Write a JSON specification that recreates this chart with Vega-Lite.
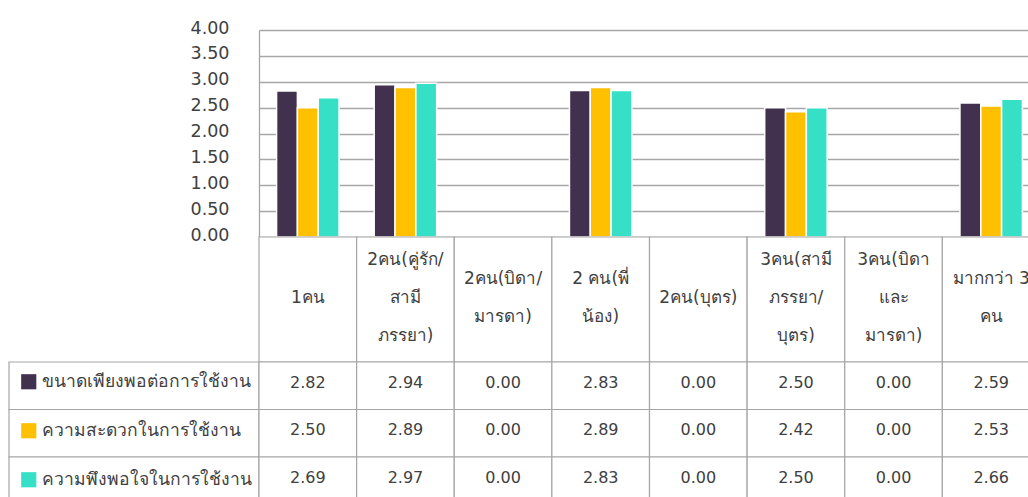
{
  "$schema": "https://vega.github.io/schema/vega-lite/v6.json",
  "padding": {"left": 8, "top": 19, "right": 0, "bottom": 0},
  "columns": 2,
  "spacing": 0,
  "align": "each",
  "bounds": "flush",
  "config": {
    "view": {"stroke": null},
    "font": "DejaVu Sans",
    "text": {"color": "#404040"}
  },
  "resolve": {
    "scale": {"x": "independent", "y": "independent", "color": "independent"},
    "legend": {"color": "independent"}
  },
  "datasets": {
    "scores": [
      {"cat": "1คน", "series": "ขนาดเพียงพอต่อการใช้งาน", "value": 2.82},
      {"cat": "2คน(คู่รัก/\nสามี\nภรรยา)", "series": "ขนาดเพียงพอต่อการใช้งาน", "value": 2.94},
      {"cat": "2คน(บิดา/\nมารดา)", "series": "ขนาดเพียงพอต่อการใช้งาน", "value": 0},
      {"cat": "2 คน(พี่\nน้อง)", "series": "ขนาดเพียงพอต่อการใช้งาน", "value": 2.83},
      {"cat": "2คน(บุตร)", "series": "ขนาดเพียงพอต่อการใช้งาน", "value": 0},
      {"cat": "3คน(สามี\nภรรยา/\nบุตร)", "series": "ขนาดเพียงพอต่อการใช้งาน", "value": 2.5},
      {"cat": "3คน(บิดา\nและ\nมารดา)", "series": "ขนาดเพียงพอต่อการใช้งาน", "value": 0},
      {"cat": "มากกว่า 3\nคน", "series": "ขนาดเพียงพอต่อการใช้งาน", "value": 2.59},
      {"cat": "1คน", "series": "ความสะดวกในการใช้งาน", "value": 2.5},
      {"cat": "2คน(คู่รัก/\nสามี\nภรรยา)", "series": "ความสะดวกในการใช้งาน", "value": 2.89},
      {"cat": "2คน(บิดา/\nมารดา)", "series": "ความสะดวกในการใช้งาน", "value": 0},
      {"cat": "2 คน(พี่\nน้อง)", "series": "ความสะดวกในการใช้งาน", "value": 2.89},
      {"cat": "2คน(บุตร)", "series": "ความสะดวกในการใช้งาน", "value": 0},
      {"cat": "3คน(สามี\nภรรยา/\nบุตร)", "series": "ความสะดวกในการใช้งาน", "value": 2.42},
      {"cat": "3คน(บิดา\nและ\nมารดา)", "series": "ความสะดวกในการใช้งาน", "value": 0},
      {"cat": "มากกว่า 3\nคน", "series": "ความสะดวกในการใช้งาน", "value": 2.53},
      {"cat": "1คน", "series": "ความพึงพอใจในการใช้งาน", "value": 2.69},
      {"cat": "2คน(คู่รัก/\nสามี\nภรรยา)", "series": "ความพึงพอใจในการใช้งาน", "value": 2.97},
      {"cat": "2คน(บิดา/\nมารดา)", "series": "ความพึงพอใจในการใช้งาน", "value": 0},
      {"cat": "2 คน(พี่\nน้อง)", "series": "ความพึงพอใจในการใช้งาน", "value": 2.83},
      {"cat": "2คน(บุตร)", "series": "ความพึงพอใจในการใช้งาน", "value": 0},
      {"cat": "3คน(สามี\nภรรยา/\nบุตร)", "series": "ความพึงพอใจในการใช้งาน", "value": 2.5},
      {"cat": "3คน(บิดา\nและ\nมารดา)", "series": "ความพึงพอใจในการใช้งาน", "value": 0},
      {"cat": "มากกว่า 3\nคน", "series": "ความพึงพอใจในการใช้งาน", "value": 2.66}
    ],
    "cats": [
      {"cat": "1คน"},
      {"cat": "2คน(คู่รัก/\nสามี\nภรรยา)"},
      {"cat": "2คน(บิดา/\nมารดา)"},
      {"cat": "2 คน(พี่\nน้อง)"},
      {"cat": "2คน(บุตร)"},
      {"cat": "3คน(สามี\nภรรยา/\nบุตร)"},
      {"cat": "3คน(บิดา\nและ\nมารดา)"},
      {"cat": "มากกว่า 3\nคน"}
    ],
    "seriesList": [
      {"series": "ขนาดเพียงพอต่อการใช้งาน"},
      {"series": "ความสะดวกในการใช้งาน"},
      {"series": "ความพึงพอใจในการใช้งาน"}
    ]
  },
  "concat": [
    {
      "width": 250,
      "height": 207,
      "data": {"values": [{}]},
      "mark": {"type": "text"},
      "encoding": {"text": {"value": ""}}
    },
    {
      "width": 781,
      "height": 207,
      "data": {"name": "scores"},
      "transform": [{"filter": "datum.value > 0"}],
      "mark": {"type": "bar", "stroke": "white", "strokeWidth": 1.5},
      "encoding": {
        "x": {
          "field": "cat", "type": "nominal", "sort": null, "axis": null,
          "scale": {"domain": ["1คน", "2คน(คู่รัก/\nสามี\nภรรยา)", "2คน(บิดา/\nมารดา)", "2 คน(พี่\nน้อง)", "2คน(บุตร)", "3คน(สามี\nภรรยา/\nบุตร)", "3คน(บิดา\nและ\nมารดา)", "มากกว่า 3\nคน"], "paddingInner": 0.36, "paddingOuter": 0.18}
        },
        "xOffset": {
          "field": "series", "type": "nominal", "sort": null,
          "scale": {"domain": ["ขนาดเพียงพอต่อการใช้งาน", "ความสะดวกในการใช้งาน", "ความพึงพอใจในการใช้งาน"], "paddingInner": 0, "paddingOuter": 0}
        },
        "y": {
          "field": "value", "type": "quantitative",
          "scale": {"domain": [0, 4]},
          "axis": {
            "title": null, "values": [0, 0.5, 1, 1.5, 2, 2.5, 3, 3.5, 4], "format": ".2f",
            "ticks": false, "labelPadding": 30, "labelFontSize": 17.5, "labelColor": "#404040",
            "labelOffset": -2, "gridColor": "#a6a6a6", "gridWidth": 1.3,
            "domainColor": "#a6a6a6", "domainWidth": 1.3
          }
        },
        "color": {
          "field": "series", "type": "nominal", "legend": null,
          "scale": {"domain": ["ขนาดเพียงพอต่อการใช้งาน", "ความสะดวกในการใช้งาน", "ความพึงพอใจในการใช้งาน"], "range": ["#41314f", "#ffc000", "#35e0c6"]}
        }
      }
    },
    {
      "width": 250,
      "height": 125,
      "data": {"values": [{}]},
      "mark": {"type": "text"},
      "encoding": {"text": {"value": ""}}
    },
    {
      "width": 781,
      "height": 125,
      "data": {"name": "cats"},
      "encoding": {
        "x": {"field": "cat", "type": "nominal", "sort": null, "axis": null, "scale": {"paddingInner": 0, "paddingOuter": 0}}
      },
      "layer": [
        {"mark": {"type": "rect", "fill": "white", "stroke": "#a6a6a6", "strokeWidth": 1.2}},
        {
          "transform": [{"filter": "length(split(datum.cat, '\\n')) == 1"}],
          "mark": {"type": "text", "fontSize": 17, "lineBreak": "\n", "lineHeight": 38, "baseline": "middle", "dy": -2},
          "encoding": {"text": {"field": "cat"}}
        },
        {
          "transform": [{"filter": "length(split(datum.cat, '\\n')) == 2"}],
          "mark": {"type": "text", "fontSize": 17, "lineBreak": "\n", "lineHeight": 38, "baseline": "middle", "dy": -21},
          "encoding": {"text": {"field": "cat"}}
        },
        {
          "transform": [{"filter": "length(split(datum.cat, '\\n')) == 3"}],
          "mark": {"type": "text", "fontSize": 17, "lineBreak": "\n", "lineHeight": 38, "baseline": "middle", "dy": -40},
          "encoding": {"text": {"field": "cat"}}
        }
      ]
    },
    {
      "width": 250,
      "height": 142.5,
      "data": {"name": "seriesList"},
      "encoding": {
        "y": {"field": "series", "type": "nominal", "sort": null, "axis": null, "scale": {"paddingInner": 0, "paddingOuter": 0}}
      },
      "layer": [
        {"mark": {"type": "rect", "fill": "white", "stroke": "#a6a6a6", "strokeWidth": 1.2}},
        {
          "mark": {"type": "text", "text": ""},
          "encoding": {
            "color": {
              "field": "series", "type": "nominal", "sort": null,
              "scale": {"domain": ["ขนาดเพียงพอต่อการใช้งาน", "ความสะดวกในการใช้งาน", "ความพึงพอใจในการใช้งาน"], "range": ["#41314f", "#ffc000", "#35e0c6"]},
              "legend": {
                "orient": "top-left", "offset": 11, "padding": 0, "title": null,
                "symbolType": "square", "symbolSize": 230, "symbolStrokeWidth": 0,
                "labelFontSize": 17.5, "labelColor": "#404040", "labelOffset": 4,
                "rowPadding": 30, "labelLimit": 0
              }
            }
          }
        }
      ]
    },
    {
      "width": 781,
      "height": 142.5,
      "data": {"name": "scores"},
      "encoding": {
        "x": {"field": "cat", "type": "nominal", "sort": null, "axis": null, "scale": {"paddingInner": 0, "paddingOuter": 0}},
        "y": {"field": "series", "type": "nominal", "sort": null, "axis": null, "scale": {"paddingInner": 0, "paddingOuter": 0}}
      },
      "layer": [
        {"mark": {"type": "rect", "fill": "white", "stroke": "#a6a6a6", "strokeWidth": 1.2}},
        {
          "mark": {"type": "text", "fontSize": 16, "dy": -3},
          "encoding": {"text": {"field": "value", "type": "quantitative", "format": ".2f"}}
        }
      ]
    }
  ]
}
